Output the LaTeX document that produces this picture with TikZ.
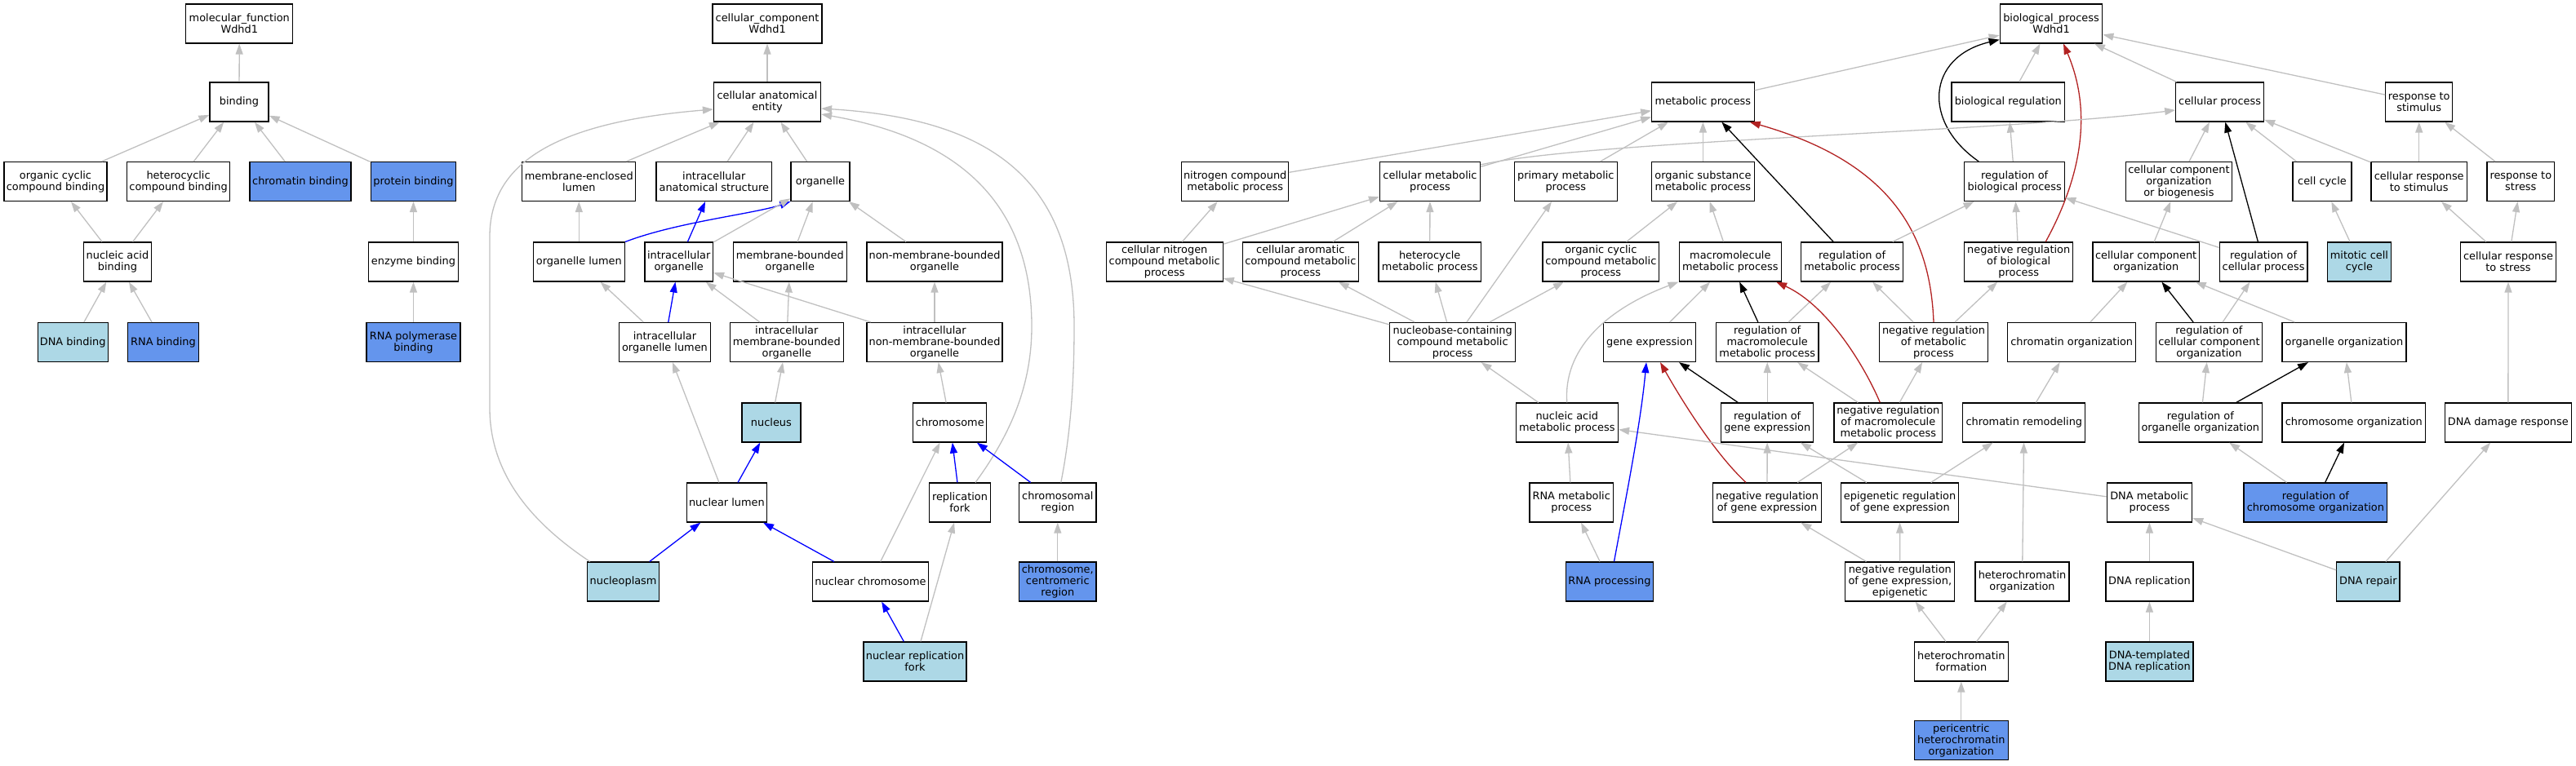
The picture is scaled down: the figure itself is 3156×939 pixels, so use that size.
\documentclass[tikz,border=0pt]{standalone}
\usepackage{fontspec}
\setmainfont{DejaVu Sans}
\usetikzlibrary{arrows.meta}
\definecolor{lbN}{HTML}{ADD8E6}
\definecolor{cbN}{HTML}{6495ED}
\definecolor{edgegray}{HTML}{C0C0C0}
\definecolor{fbN}{HTML}{B22222}
\newcommand\fsz{\fontsize{12.9}{14}\selectfont}
\tikzset{
  box/.style={draw=black, line width=1.2pt, rectangle, minimum height=48pt, inner xsep=0pt, inner ysep=1pt, align=center, font=\fsz, fill=white},
  lb/.style={fill=lbN},
  cb/.style={fill=cbN},
  tip/.style={-{Triangle[length=13pt,width=9pt]}},
  ge/.style={draw=edgegray, line width=1.3pt, tip},
  be/.style={draw=black, line width=1.3pt, tip},
  bl/.style={draw=blue, line width=1.3pt, tip},
  re/.style={draw=fbN, line width=1.3pt, tip}
}
\begin{document}
\begin{tikzpicture}[x=1pt,y=-1pt]
\useasboundingbox (0,0) rectangle (3156,939);
% ---------------- molecular function
\node[box, minimum width=131pt] (mf) at (293.3,29) {molecular\_function\\Wdhd1};
\node[box, minimum width=72pt] (bind) at (293,125) {binding};
\node[box, minimum width=126pt] (ocb) at (68,222.5) {organic cyclic\\compound binding};
\node[box, minimum width=126pt] (hcb) at (218.6,222.5) {heterocyclic\\compound binding};
\node[box, cb, minimum width=124pt] (chb) at (368,222.5) {chromatin binding};
\node[box, cb, minimum width=104.5pt] (prb) at (506.5,222.5) {protein binding};
\node[box, minimum width=83pt] (nab) at (144,321) {nucleic acid\\binding};
\node[box, minimum width=110pt] (enb) at (506.5,321) {enzyme binding};
\node[box, lb, minimum width=86pt] (dnab) at (89.2,419.5) {DNA binding};
\node[box, cb, minimum width=86.6pt] (rnab) at (200,419.5) {RNA binding};
\node[box, cb, minimum width=115pt] (rnapb) at (506.5,419.5) {RNA polymerase\\binding};
% ---------------- cellular component
\node[box, minimum width=134pt] (cc) at (940,29) {cellular\_component\\Wdhd1};
\node[box, minimum width=131pt] (cae) at (940,125) {cellular anatomical\\entity};
\node[box, minimum width=139pt] (mel) at (709.3,222.5) {membrane-enclosed\\lumen};
\node[box, minimum width=141.7pt] (ias) at (874.8,222.5) {intracellular\\anatomical structure};
\node[box, minimum width=72pt] (org) at (1005,222.5) {organelle};
\node[box, minimum width=112.4pt] (ol) at (709.3,321) {organelle lumen};
\node[box, minimum width=83.6pt] (io) at (831.7,321) {intracellular\\organelle};
\node[box, minimum width=138.7pt] (mbo) at (967.8,321) {membrane-bounded\\organelle};
\node[box, minimum width=166pt] (nmbo) at (1145,321) {non-membrane-bounded\\organelle};
\node[box, minimum width=112pt] (iol) at (814.5,419.5) {intracellular\\organelle lumen};
\node[box, minimum width=138.8pt] (imbo) at (963.8,419.5) {intracellular\\membrane-bounded\\organelle};
\node[box, minimum width=166pt] (inmbo) at (1145,419.5) {intracellular\\non-membrane-bounded\\organelle};
\node[box, lb, minimum width=72pt] (nuc) at (944.9,518) {nucleus};
\node[box, minimum width=90pt] (chr) at (1163.8,518) {chromosome};
\node[box, minimum width=98.5pt] (nl) at (890.4,616) {nuclear lumen};
\node[box, minimum width=74.6pt] (rf) at (1176,616) {replication\\fork};
\node[box, minimum width=94.5pt] (chrr) at (1295.8,616) {chromosomal\\region};
\node[box, lb, minimum width=88.5pt] (npl) at (763.6,713) {nucleoplasm};
\node[box, minimum width=142pt] (nchr) at (1066.5,713) {nuclear chromosome};
\node[box, cb, minimum width=94.5pt] (chrc) at (1295.8,713) {chromosome,\\centromeric\\region};
\node[box, lb, minimum width=126pt] (nrf) at (1121,811) {nuclear replication\\fork};
% ---------------- biological process
\node[box, minimum width=125.5pt] (bp) at (2513,29) {biological\_process\\Wdhd1};
\node[box, minimum width=125.4pt] (mp) at (2086.4,125) {metabolic process};
\node[box, minimum width=138.8pt] (br) at (2460.3,125) {biological regulation};
\node[box, minimum width=107.7pt] (cp) at (2719.6,125) {cellular process};
\node[box, minimum width=82pt] (rs) at (2963.7,125) {response to\\stimulus};
\node[box, minimum width=131pt] (ncmp) at (1513.2,222.5) {nitrogen compound\\metabolic process};
\node[box, minimum width=123pt] (cmp) at (1752,222.5) {cellular metabolic\\process};
\node[box, minimum width=126pt] (pmp) at (1918.3,222.5) {primary metabolic\\process};
\node[box, minimum width=125.7pt] (osmp) at (2086.4,222.5) {organic substance\\metabolic process};
\node[box, minimum width=122.9pt] (rbp) at (2468.2,222.5) {regulation of\\biological process};
\node[box, minimum width=130pt] (ccob) at (2669.4,222.5) {cellular component\\organization\\or biogenesis};
\node[box, minimum width=72pt] (ccy) at (2845,222.5) {cell cycle};
\node[box, minimum width=117.6pt] (crs) at (2963.7,222.5) {cellular response\\to stimulus};
\node[box, minimum width=82.6pt] (rss) at (3088.3,222.5) {response to\\stress};
\node[box, minimum width=143pt] (cncmp) at (1426.7,321) {cellular nitrogen\\compound metabolic\\process};
\node[box, minimum width=142.4pt] (cacmp) at (1593.3,321) {cellular aromatic\\compound metabolic\\process};
\node[box, minimum width=125.5pt] (hmp) at (1751.7,321) {heterocycle\\metabolic process};
\node[box, minimum width=142.5pt] (occmp) at (1961.3,321) {organic cyclic\\compound metabolic\\process};
\node[box, minimum width=125.4pt] (mmp) at (2119.8,321) {macromolecule\\metabolic process};
\node[box, minimum width=125.4pt] (rmp) at (2269.1,321) {regulation of\\metabolic process};
\node[box, minimum width=132.8pt] (nrbp) at (2473.2,321) {negative regulation\\of biological\\process};
\node[box, minimum width=130.2pt] (cco) at (2629.1,321) {cellular component\\organization};
\node[box, minimum width=107.7pt] (rcp) at (2773.1,321) {regulation of\\cellular process};
\node[box, lb, minimum width=78pt] (mcc) at (2890.4,321) {mitotic cell\\cycle};
\node[box, minimum width=117pt] (crss) at (3073,321) {cellular response\\to stress};
\node[box, minimum width=153.5pt] (nccmp) at (1779.6,419.5) {nucleobase-containing\\compound metabolic\\process};
\node[box, minimum width=113pt] (gex) at (2021,419.5) {gene expression};
\node[box, minimum width=125.4pt] (rmmp) at (2165.2,419.5) {regulation of\\macromolecule\\metabolic process};
\node[box, minimum width=133.5pt] (nrmp) at (2369,419.5) {negative regulation\\of metabolic\\process};
\node[box, minimum width=157.3pt] (chorg) at (2538.2,419.5) {chromatin organization};
\node[box, minimum width=130.2pt] (rcco) at (2706.4,419.5) {regulation of\\cellular component\\organization};
\node[box, minimum width=152pt] (oo) at (2871.9,419.5) {organelle organization};
\node[box, minimum width=125.4pt] (namp) at (1919.8,518) {nucleic acid\\metabolic process};
\node[box, minimum width=113.2pt] (rge) at (2165.2,518) {regulation of\\gene expression};
\node[box, minimum width=132.8pt] (nrmmp) at (2313.3,518) {negative regulation\\of macromolecule\\metabolic process};
\node[box, minimum width=150pt] (crm) at (2479.8,518) {chromatin remodeling};
\node[box, minimum width=151.3pt] (roo) at (2695.8,518) {regulation of\\organelle organization};
\node[box, minimum width=175.8pt] (chrorg) at (2883.8,518) {chromosome organization};
\node[box, minimum width=154.6pt] (ddr) at (3072.8,518) {DNA damage response};
\node[box, minimum width=102.5pt] (rnamp) at (1925.2,616) {RNA metabolic\\process};
\node[box, minimum width=133.6pt] (nrge) at (2165,616) {negative regulation\\of gene expression};
\node[box, minimum width=144pt] (erge) at (2327.5,616) {epigenetic regulation\\of gene expression};
\node[box, minimum width=104.4pt] (dnamp) at (2633.4,616) {DNA metabolic\\process};
\node[box, cb, minimum width=175.8pt] (rco) at (2836.9,616) {regulation of\\chromosome organization};
\node[box, cb, minimum width=107.5pt] (rnap) at (1972,713) {RNA processing};
\node[box, minimum width=134pt] (nrgee) at (2327.8,713) {negative regulation\\of gene expression,\\epigenetic};
\node[box, minimum width=115pt] (hco) at (2477.5,713) {heterochromatin\\organization};
\node[box, minimum width=107pt] (dnar) at (2633.4,713) {DNA replication};
\node[box, lb, minimum width=77.3pt] (dnarep) at (2901.3,713) {DNA repair};
\node[box, minimum width=115pt] (hcf) at (2402.8,811) {heterochromatin\\formation};
\node[box, lb, minimum width=107pt] (dnatr) at (2633.4,811) {DNA-templated\\DNA replication};
\node[box, cb, minimum width=115pt] (phco) at (2402.8,907.5) {pericentric\\heterochromatin\\organization};
% ================= edges MF
\draw[ge] (bind) -- (mf);
\draw[ge] (ocb) -- (bind);
\draw[ge] (hcb) -- (bind);
\draw[ge] (chb) -- (bind);
\draw[ge] (prb) -- (bind);
\draw[ge] (nab) -- (ocb);
\draw[ge] (nab) -- (hcb);
\draw[ge] (enb) -- (prb);
\draw[ge] (dnab) -- (nab);
\draw[ge] (rnab) -- (nab);
\draw[ge] (rnapb) -- (enb);
% ================= edges CC
\draw[ge] (cae) -- (cc);
\draw[ge] (mel) -- (cae);
\draw[ge] (ias) -- (cae);
\draw[ge] (org) -- (cae);
\draw[ge] (ol) -- (mel);
\draw[bl] (ol.north east) .. controls (830,272) and (925,262) .. (org.south west);
\draw[bl] (io) -- (ias);
\draw[ge] (io) -- (org);
\draw[ge] (mbo) -- (org);
\draw[ge] (nmbo) -- (org);
\draw[ge] (iol) -- (ol);
\draw[bl] (iol) -- (io);
\draw[ge] (imbo) -- (io);
\draw[ge] (imbo) -- (mbo);
\draw[ge] (inmbo) -- (io);
\draw[ge] (inmbo) -- (nmbo);
\draw[ge] (nuc) -- (imbo);
\draw[ge] (chr) -- (inmbo);
\draw[ge] (nl) -- (iol);
\draw[bl] (nl) -- (nuc);
\draw[bl] (rf) -- (chr);
\draw[ge] ([xshift=19pt]rf.north) .. controls (1240,530) and (1264,470) .. (1264,400) .. controls (1264,230) and (1150,165) .. ([yshift=-15pt]cae.east);
\draw[bl] (chrr) -- (chr);
\draw[ge] ([xshift=4pt]chrr.north) .. controls (1310,540) and (1316,480) .. (1316,400) .. controls (1316,210) and (1200,145) .. ([yshift=-8pt]cae.east);
\draw[bl] (npl) -- (nl);
\draw[ge] ([xshift=4pt]npl.north west) .. controls (650,640) and (600,580) .. (600,500) -- (600,290) .. controls (600,200) and (680,150) .. ([yshift=-9pt]cae.west);
\draw[bl] (nchr) -- (nl);
\draw[ge] (nchr) -- (chr);
\draw[ge] (chrc) -- (chrr);
\draw[bl] (nrf) -- (nchr);
\draw[ge] (nrf) -- (rf);
% ================= edges BP
\draw[ge] (mp) -- (bp);
\draw[ge] (br) -- (bp);
\draw[ge] (cp) -- (bp);
\draw[ge] (rs) -- (bp);
\draw[be] ([xshift=-44pt]rbp.north) .. controls (2355,150) and (2360,70) .. ([yshift=5pt]bp.south west);
\draw[re] ([xshift=33pt]nrbp.north) .. controls (2548,220) and (2565,140) .. ([xshift=15pt]bp.south);
\draw[ge] (ncmp) -- (mp);
\draw[ge] (cmp) -- (mp);
\draw[ge] ([yshift=-4pt]cmp.north east) .. controls (1950,172) and (2450,162) .. ([yshift=-10pt]cp.west);
\draw[ge] (pmp) -- (mp);
\draw[ge] (osmp) -- (mp);
\draw[be] (rmp) -- (mp);
\draw[re] (nrmp.north) .. controls (2365,290) and (2320,200) .. ([xshift=-6pt]mp.south east);
\draw[ge] (rbp) -- (br);
\draw[ge] (ccob) -- (cp);
\draw[ge] (ccy) -- (cp);
\draw[ge] (crs) -- (cp);
\draw[ge] (crs) -- (rs);
\draw[ge] (rss) -- (rs);
\draw[be] (rcp) -- (cp);
\draw[ge] (rcp) -- (rbp);
\draw[ge] (cncmp) -- (ncmp);
\draw[ge] (cncmp) -- (cmp);
\draw[ge] (cacmp) -- (cmp);
\draw[ge] (hmp) -- (cmp);
\draw[ge] (occmp) -- (osmp);
\draw[ge] (mmp) -- (osmp);
\draw[ge] (rmp) -- (rbp);
\draw[ge] (nrbp) -- (rbp);
\draw[ge] (cco) -- (ccob);
\draw[ge] (mcc) -- (ccy);
\draw[ge] (crss) -- (crs);
\draw[ge] (crss) -- (rss);
\draw[ge] (nccmp) -- (cncmp);
\draw[ge] (nccmp) -- (cacmp);
\draw[ge] (nccmp) -- (hmp);
\draw[ge] (nccmp) -- (pmp);
\draw[ge] (nccmp) -- (occmp);
\draw[ge] (gex) -- (mmp);
\draw[be] (rmmp) -- (mmp);
\draw[ge] (rmmp) -- (rmp);
\draw[ge] (nrmp) -- (rmp);
\draw[ge] (nrmp) -- (nrbp);
\draw[ge] (chorg) -- (cco);
\draw[be] (rcco) -- (cco);
\draw[ge] (rcco) -- (rcp);
\draw[ge] (oo) -- (cco);
\draw[ge] (namp) -- (nccmp);
\draw[ge] (namp.north) .. controls (1915,430) and (1965,380) .. (mmp.south west);
\draw[be] (rge) -- (gex);
\draw[ge] (rge) -- (rmmp);
\draw[re] ([xshift=-10pt]nrmmp.north) .. controls (2285,450) and (2240,375) .. ([xshift=-7pt]mmp.south east);
\draw[ge] (nrmmp) -- (rmmp);
\draw[ge] (nrmmp) -- (nrmp);
\draw[ge] (crm) -- (chorg);
\draw[ge] (roo) -- (rcco);
\draw[be] (roo) -- (oo);
\draw[ge] (chrorg) -- (oo);
\draw[ge] (ddr) -- (crss);
\draw[ge] (rnamp) -- (namp);
\draw[re] ([xshift=-26pt]nrge.north) .. controls (2100,555) and (2060,490) .. ([xshift=13pt]gex.south);
\draw[ge] (nrge) -- (rge);
\draw[ge] (nrge) -- (nrmmp);
\draw[ge] (erge) -- (rge);
\draw[ge] (erge) -- (crm);
\draw[ge] (dnamp) -- (namp);
\draw[ge] (rco) -- (roo);
\draw[be] (rco) -- (chrorg);
\draw[ge] (rnap) -- (rnamp);
\draw[bl] ([xshift=5.5pt]rnap.north) .. controls (1992,610) and (2010,520) .. ([xshift=-4pt]gex.south);
\draw[ge] (nrgee) -- (nrge);
\draw[ge] (nrgee) -- (erge);
\draw[ge] (hco) -- (crm);
\draw[ge] (dnar) -- (dnamp);
\draw[ge] (dnarep) -- (dnamp);
\draw[ge] (dnarep) -- (ddr);
\draw[ge] (hcf) -- (nrgee);
\draw[ge] (hcf) -- (hco);
\draw[ge] (dnatr) -- (dnar);
\draw[ge] (phco) -- (hcf);
\end{tikzpicture}
\end{document}
